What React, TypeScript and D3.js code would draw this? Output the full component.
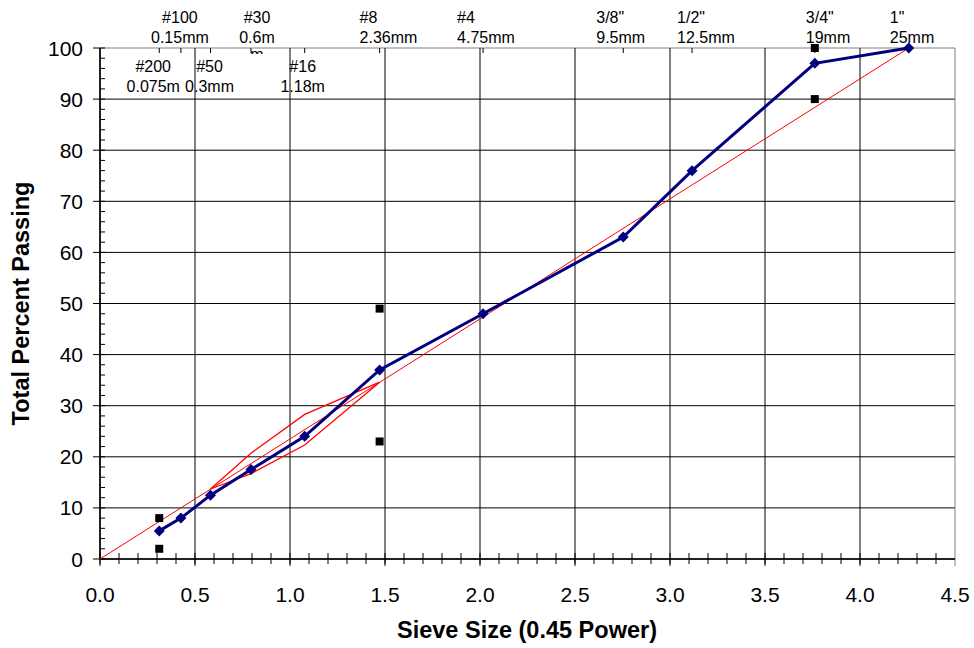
import React from "react";
import * as d3 from "d3";

// ---- data ----
const sieveMm = [0.075, 0.15, 0.3, 0.6, 1.18, 2.36, 4.75, 9.5, 12.5, 19, 25];
const sieveNames = ["#200", "#100", "#50", "#30", "#16", "#8", "#4", '3/8"', '1/2"', '3/4"', '1"'];
const sieveMmLabels = ["0.075m", "0.15mm", "0.3mm", "0.6m", "1.18m", "2.36mm", "4.75mm", "9.5mm", "12.5mm", "19mm", "25mm"];
const gradationPassing = [5.5, 8, 12.5, 17.5, 24, 37, 48, 63, 76, 97, 100];

// control points (sieve mm, percent)
const controlSieves = [0.075, 0.075, 2.36, 2.36, 19, 19];
const controlValues = [2, 8, 23, 49, 90, 100];

// maximum density line
const maxDensitySieves = [0, 25];
const maxDensityValues = [0, 100];

// restricted zone
const rzSieves = [0.3, 0.6, 1.18, 2.36];
const rzUpper = [13.7, 20.7, 28.3, 34.6];
const rzLower = [13.7, 16.7, 22.3, 34.6];

const xTicks = [0, 0.5, 1, 1.5, 2, 2.5, 3, 3.5, 4, 4.5];
const yTicks = [0, 10, 20, 30, 40, 50, 60, 70, 80, 90, 100];

// ---- layout for top labels (row 0 = above frame, 1 = inside) ----
const labelRow = [1, 0, 1, 0, 1, 0, 0, 0, 0, 0, 0];
const labelAnchor = ["middle", "middle", "middle", "middle", "middle", "start", "start", "start", "start", "start", "start"];
const labelDx = [-6, -1, -1, 6, -2, -20, -26, -27, -15, -9, -19];

const W = 974;
const H = 648;
const left = 100, right = 955, top = 48, bottom = 559;

const pw = (mm: number) => Math.pow(mm, 0.45);

export default function App() {
  const x = d3.scaleLinear().domain([0, 4.5]).range([left, right]);
  const y = d3.scaleLinear().domain([0, 100]).range([bottom, top]);

  const line = d3
    .line<[number, number]>()
    .x((d) => x(d[0]))
    .y((d) => y(d[1]));

  const grad: [number, number][] = sieveMm.map((s, i) => [pw(s), gradationPassing[i]]);
  const maxD: [number, number][] = maxDensitySieves.map((s, i) => [pw(s), maxDensityValues[i]]);
  const rzU: [number, number][] = rzSieves.map((s, i) => [pw(s), rzUpper[i]]);
  const rzL: [number, number][] = rzSieves.map((s, i) => [pw(s), rzLower[i]]);

  const minorX = d3.range(0, 45).map((i) => i / 10);
  const minorY = d3.range(0, 51).map((i) => i * 2);

  const diamond = (cx: number, cy: number, r: number) =>
    `M${cx},${cy - r}L${cx + r},${cy}L${cx},${cy + r}L${cx - r},${cy}Z`;

  const font = "Arial, 'Liberation Sans', sans-serif";
  const x30 = x(pw(0.6)) + 6;

  return (
    <svg
      width={W}
      height={H}
      style={{ position: "absolute", left: 0, top: 0, display: "block", background: "#fff" }}
      fontFamily={font}
    >
      <defs>
        <clipPath id="clipM">
          <rect x={x30 - 15} y={top + 2} width={30} height={4} />
        </clipPath>
      </defs>
      <rect x={0} y={0} width={W} height={H} fill="#fff" />
      {/* horizontal grid */}
      {yTicks.map((t) => (
        <line key={"hg" + t} x1={left} x2={right} y1={y(t)} y2={y(t)} stroke={t === 100 ? "#808080" : "#000"} strokeWidth={1} />
      ))}
      {/* vertical grid */}
      {xTicks.map((t) => (
        <line key={"vg" + t} x1={x(t)} x2={x(t)} y1={top} y2={bottom + 7} stroke={t === 4.5 ? "#808080" : "#000"} strokeWidth={1} />
      ))}
      {/* x minor ticks */}
      {minorX.map((t, i) => (
        <line key={"mx" + i} x1={x(t)} x2={x(t)} y1={bottom - 6} y2={bottom + 5} stroke="#000" strokeWidth={1} />
      ))}
      {/* y minor ticks (inside) */}
      {minorY.map((t) => (
        <line key={"my" + t} x1={left} x2={left + 5} y1={y(t)} y2={y(t)} stroke="#000" strokeWidth={1} />
      ))}
      {yTicks.map((t) => (
        <line key={"Mj" + t} x1={left - 7} x2={left} y1={y(t)} y2={y(t)} stroke="#000" strokeWidth={1} />
      ))}
      {/* axis lines */}
      <line x1={left} x2={left} y1={top} y2={bottom} stroke="#000" strokeWidth={1.5} />
      <line x1={left} x2={right} y1={bottom} y2={bottom} stroke="#000" strokeWidth={1.5} />
      {/* top sieve ticks */}
      {sieveMm.map((s) => (
        <line key={"st" + s} x1={x(pw(s))} x2={x(pw(s))} y1={top} y2={top + 5} stroke="#000" strokeWidth={1} />
      ))}

      {/* y tick labels */}
      {yTicks.map((t) => (
        <text key={"yl" + t} x={left - 17} y={y(t) + 7.5} textAnchor="end" fontSize={21} fill="#000">
          {t}
        </text>
      ))}
      {/* x tick labels */}
      {xTicks.map((t) => (
        <text key={"xl" + t} x={x(t)} y={bottom + 43} textAnchor="middle" fontSize={21} fill="#000">
          {t.toFixed(1)}
        </text>
      ))}

      {/* top labels */}
      {sieveMm.map((s, i) => {
        const base = labelRow[i] === 0 ? 23 : 72;
        const tx = x(pw(s)) + labelDx[i];
        return (
          <g key={"lab" + i}>
            <text x={tx} y={base} fontSize={16} textAnchor={labelAnchor[i] as any} fill="#000">
              {sieveNames[i]}
            </text>
            <text x={tx} y={base + 20} fontSize={16} textAnchor={labelAnchor[i] as any} fill="#000">
              {sieveMmLabels[i]}
            </text>
          </g>
        );
      })}
      {/* clipped remnant of wrapped label */}
      <text x={x30} y={top + 12} fontSize={16} textAnchor="middle" fill="#000" clipPath="url(#clipM)">
        m
      </text>

      {/* max density line */}
      <path d={line(maxD) || ""} fill="none" stroke="#ff0000" strokeWidth={1} />
      {/* restricted zone */}
      <path d={line(rzU) || ""} fill="none" stroke="#ff0000" strokeWidth={1.3} />
      <path d={line(rzL) || ""} fill="none" stroke="#ff0000" strokeWidth={1.3} />

      {/* control points */}
      {controlSieves.map((s, i) => (
        <rect
          key={"cp" + i}
          x={x(pw(s)) - 4}
          y={y(controlValues[i]) - 4}
          width={8}
          height={8}
          fill="#000"
        />
      ))}

      {/* gradation */}
      <path d={line(grad) || ""} fill="none" stroke="#000080" strokeWidth={3} />
      {grad.map((d, i) => (
        <path key={"gd" + i} d={diamond(x(d[0]), y(d[1]), 5.5)} fill="#000080" />
      ))}

      {/* axis titles */}
      <text x={527} y={638} textAnchor="middle" fontSize={23.5} fontWeight="bold" fill="#000">
        Sieve Size (0.45 Power)
      </text>
      <text
        transform={`translate(29,${(top + bottom) / 2}) rotate(-90)`}
        textAnchor="middle"
        fontSize={23.5}
        fontWeight="bold"
        fill="#000"
      >
        Total Percent Passing
      </text>
    </svg>
  );
}
